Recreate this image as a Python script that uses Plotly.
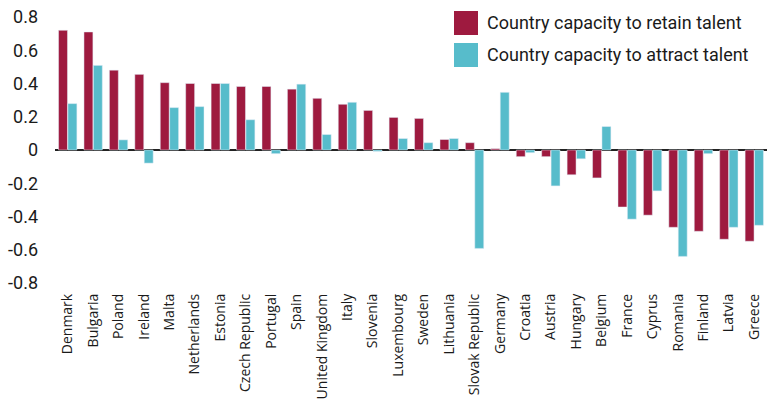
import plotly.graph_objects as go

countries = ["Denmark", "Bulgaria", "Poland", "Ireland", "Malta", "Netherlands", "Estonia",
             "Czech Republic", "Portugal", "Spain", "United Kingdom", "Italy", "Slovenia",
             "Luxembourg", "Sweden", "Lithuania", "Slovak Republic", "Germany", "Croatia",
             "Austria", "Hungary", "Belgium", "France", "Cyprus", "Romania", "Finland",
             "Latvia", "Greece"]
retain = [0.72, 0.71, 0.48, 0.455, 0.405, 0.40, 0.40, 0.382, 0.382, 0.366, 0.311, 0.275,
          0.238, 0.196, 0.19, 0.063, 0.044, 0.008, -0.04, -0.04, -0.149, -0.168, -0.343,
          -0.392, -0.465, -0.489, -0.537, -0.549]
attract = [0.279, 0.509, 0.061, -0.079, 0.255, 0.261, 0.40, 0.182, -0.022, 0.396, 0.093,
           0.287, -0.008, 0.069, 0.044, 0.069, -0.592, 0.347, -0.016, -0.216, -0.053, 0.141,
           -0.416, -0.246, -0.640, -0.022, -0.465, -0.453]
y_ticks = [-0.8, -0.6, -0.4, -0.2, 0, 0.2, 0.4, 0.6, 0.8]
y_tick_text = ["-0.8", "-0.6", "-0.4", "-0.2", "0", "0.2", "0.4", "0.6", "0.8"]
names = ["Country capacity to retain talent", "Country capacity to attract talent"]

RED = "#9e1a3f"
CYAN = "#57bccb"
W, H = 767, 416
L, R, T, B = 55, 0, 17, 133

fig = go.Figure()
fig.add_trace(go.Bar(x=countries, y=retain, marker_color=RED, showlegend=False, name=names[0]))
fig.add_trace(go.Bar(x=countries, y=attract, marker_color=CYAN, showlegend=False, name=names[1]))

# legend drawn with large square swatches (pixel coordinates -> paper)
pw, ph = W - L - R, H - T - B
def px(x):
    return (x - L) / pw
def py(y):
    return 1 - (y - T) / ph

for i, (nm, col) in enumerate([(names[0], RED), (names[1], CYAN)]):
    top = 11 + 32 * i
    fig.add_shape(type="rect", xref="paper", yref="paper",
                  x0=px(454), x1=px(478), y0=py(top + 24), y1=py(top),
                  fillcolor=col, line_width=0, layer="above")
    fig.add_annotation(xref="paper", yref="paper", x=px(485), y=py(top + 12),
                       xanchor="left", yanchor="middle", text=nm, showarrow=False,
                       font=dict(size=18, family="Roboto", color="#1a1a1a"))

fig.update_layout(
    width=W, height=H,
    margin=dict(l=L, r=R, t=T, b=B, autoexpand=False),
    paper_bgcolor="white", plot_bgcolor="white",
    barmode="group", bargap=0.26, bargroupgap=0.05,
    showlegend=False,
    font=dict(family="Roboto", color="#1a1a1a"),
    xaxis=dict(type="category", range=[-0.5, 27.5], tickangle=-90, automargin=False,
               tickfont=dict(size=14, family="Open Sans", color="#1a1a1a"),
               showgrid=False, showline=False, ticks="", ticklabelstandoff=7,
               ticklabeloverflow="allow"),
    yaxis=dict(range=[-0.8, 0.8], tickvals=y_ticks, ticktext=y_tick_text, automargin=False,
               tickfont=dict(size=18, family="Roboto", color="#1a1a1a"),
               showgrid=False, showline=False, zeroline=True, zerolinecolor="#222",
               zerolinewidth=1.5, ticks="", ticklabelstandoff=16,
               ticklabeloverflow="allow"),
)
fig.write_html("out.html", config={"displayModeBar": False},
               post_script="document.body.style.margin='0';")
